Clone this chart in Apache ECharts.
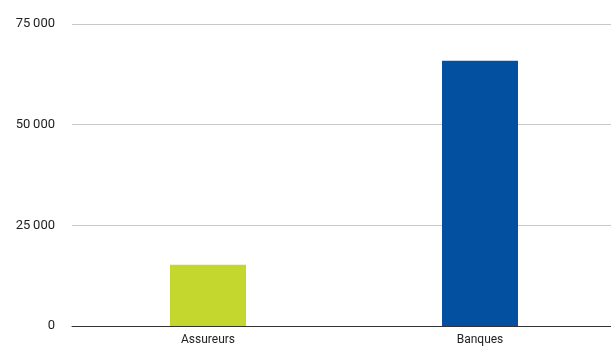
<!DOCTYPE html>
<html><head><meta charset="utf-8">
<script src="https://cdn.jsdelivr.net/npm/echarts@6/dist/echarts.min.js"></script>
<style>html,body{margin:0;padding:0;background:#fff;overflow:hidden;width:611px;height:348px}#c{width:616px;height:348px}</style>
</head><body><div id="c"></div>
<script>
const categories = ["Assureurs", "Banques"];
const values = [15200, 65900];
const barColors = ["#c3d72e", "#0450a0"];
const yTicks = [0, 25000, 50000, 75000];

const chart = echarts.init(document.getElementById('c'), null, {renderer: 'canvas'});
const fmt = v => v === 0 ? '0' : String(v).replace(/\B(?=(\d{3})+(?!\d))/g, '\u2009');
chart.setOption({
  animation: false,
  grid: {left: 72, right: 0, top: 24, bottom: 22, containLabel: false},
  xAxis: {
    type: 'category', data: categories,
    axisLine: {lineStyle: {color: '#333', width: 1}},
    axisTick: {show: false},
    axisLabel: {color: '#222', fontSize: 12, margin: 8, fontFamily: 'Roboto, sans-serif'}
  },
  yAxis: {
    type: 'value', min: 0, max: 75000, interval: 25000,
    axisLine: {show: false}, axisTick: {show: false},
    splitLine: {lineStyle: {color: '#c8c8c8', width: 1}},
    axisLabel: {color: '#222', fontSize: 13, margin: 17, formatter: fmt, fontFamily: 'Roboto, sans-serif'}
  },
  series: [{
    type: 'bar', barWidth: 76,
    data: values.map((v, i) => ({value: v, itemStyle: {color: barColors[i]}}))
  }]
});
</script></body></html>
